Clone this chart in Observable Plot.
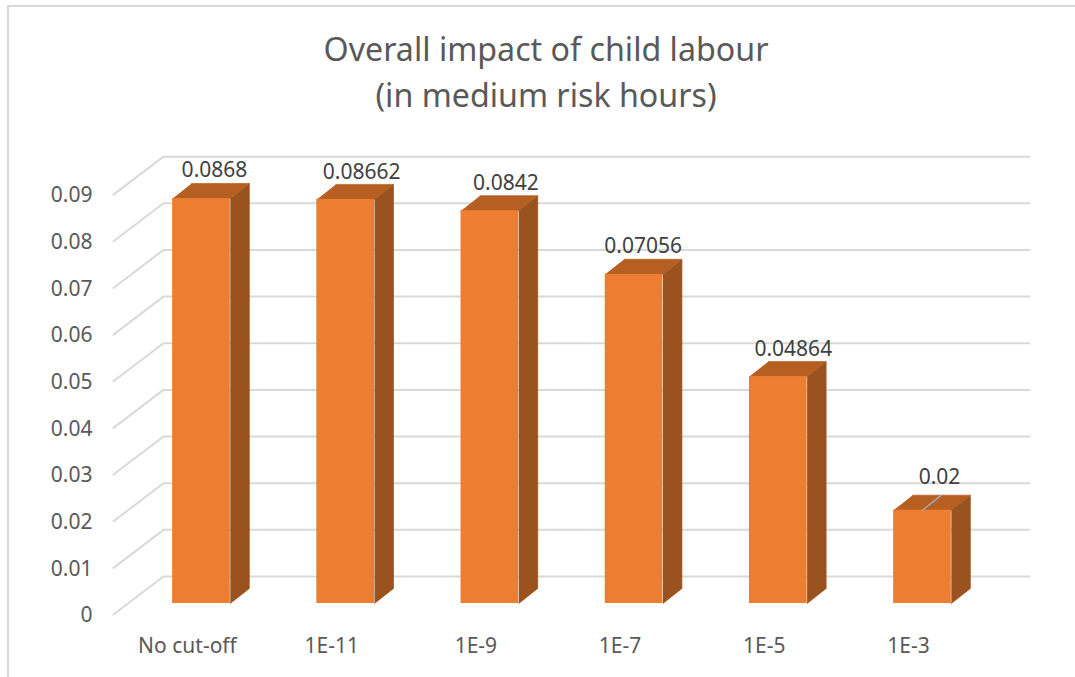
<!DOCTYPE html>
<html>
<head>
<meta charset="utf-8">
<script src="https://cdn.jsdelivr.net/npm/d3@7"></script>
<script src="https://cdn.jsdelivr.net/npm/@observablehq/plot@0.6"></script>
<style>
  html, body { margin: 0; padding: 0; background: #fff; overflow: hidden; }
  #chart { position: relative; width: 1075px; height: 677px; font-family: "Noto Sans", sans-serif; }
  #frame { position: absolute; left: 7px; top: 5px; right: -4px; bottom: -4px; border: 2px solid #d9d9d9; box-sizing: border-box; }
  #title { position: relative; height: 130px; box-sizing: border-box; padding-top: 26px; padding-left: 17px; text-align: center; color: #595959; font-size: 32.2px; line-height: 46px; }
  #plot svg { display: block; }
</style>
</head>
<body>
<div id="chart">
  <div id="frame"></div>
  <div id="title">Overall impact of child labour<br>(in medium risk hours)</div>
  <div id="plot"></div>
</div>
<script>
const categories = ["No cut-off", "1E-11", "1E-9", "1E-7", "1E-5", "1E-3"];
const values = [0.0868, 0.08662, 0.0842, 0.07056, 0.04864, 0.02];
const valueLabels = ["0.0868", "0.08662", "0.0842", "0.07056", "0.04864", "0.02"];
const yTicks = [0, 0.01, 0.02, 0.03, 0.04, 0.05, 0.06, 0.07, 0.08, 0.09];

// label nudges in pixels
const labelDx = [13, 16, 16, 9, 15, 17];
const labelDy = [-28, -27, -27, -28, -27, -33];

// geometry of the pseudo-3D box in data units
const halfW = 0.2, depthX = 0.1318, depthY = 0.00322;
const floorL = -0.61, floorB = -0.2635, wallR = 5.742;
const frontDrop = 0.00236, wallRise = 0.00579;

const idx = categories.map((_, i) => i);

const wallLines = yTicks.flatMap(v => [
  {id: v, x: floorL, y: v - frontDrop},
  {id: v, x: floorB, y: v + wallRise},
  {id: v, x: wallR, y: v + wallRise}
]);

const sidePts = idx.flatMap(i => {
  const r = i + halfW, v = values[i];
  return [
    {id: i, x: r, y: 0}, {id: i, x: r + depthX, y: depthY},
    {id: i, x: r + depthX, y: v + depthY}, {id: i, x: r, y: v}
  ];
});
const topPts = idx.flatMap(i => {
  const l = i - halfW, r = i + halfW, v = values[i];
  return [
    {id: i, x: l, y: v}, {id: i, x: r, y: v},
    {id: i, x: r + depthX, y: v + depthY}, {id: i, x: l + depthX, y: v + depthY}
  ];
});
const leader = [
  {x: 5, y: values[5]},
  {x: 5 + depthX, y: values[5] + depthY}
];

const plot = Plot.plot({
  width: 1075,
  height: 547,
  marginLeft: 113,
  marginRight: 46,
  marginTop: 10,
  marginBottom: 74,
  x: {type: "linear", domain: [floorL, wallR]},
  y: {type: "linear", domain: [0, 0.09925]},
  style: {fontFamily: '"Noto Sans", sans-serif', fontSize: "21px", background: "transparent", overflow: "visible"},
  marks: [
    Plot.line(wallLines, {x: "x", y: "y", z: "id", stroke: "#d9d9d9", strokeWidth: 2}),
    Plot.line(sidePts, {x: "x", y: "y", z: "id", fill: "#9a531f", stroke: "#9a531f", strokeWidth: 0.7}),
    Plot.line(topPts, {x: "x", y: "y", z: "id", fill: "#b65f23", stroke: "#b65f23", strokeWidth: 0.7}),
    Plot.rect(idx, {x1: i => i - halfW, x2: i => i + halfW, y1: 0, y2: i => values[i], fill: "#ed7d31"}),
    Plot.line(leader, {x: "x", y: "y", stroke: "#a6a6a6", strokeWidth: 1.5}),
    ...idx.map(i => Plot.text([i], {
      x: d => d, y: d => values[d], text: d => valueLabels[d],
      dx: labelDx[i], dy: labelDy[i], fill: "#404040", fontSize: 21
    })),
    Plot.axisY({ticks: yTicks, tickFormat: d => String(d), tickSize: 0, tickPadding: 21, dy: 12, color: "#595959", label: null, fontSize: 21}),
    Plot.axisX({ticks: idx, tickFormat: i => categories[i], tickSize: 0, tickPadding: 0, dx: -14, dy: 35, color: "#595959", label: null, fontSize: 21})
  ]
});
document.getElementById("plot").appendChild(plot);
</script>
</body>
</html>
